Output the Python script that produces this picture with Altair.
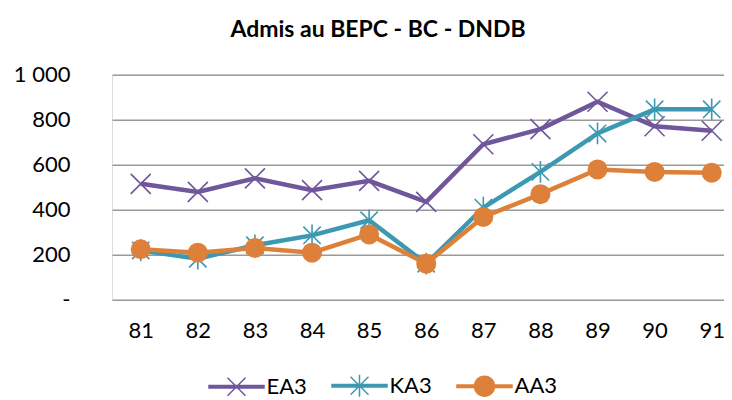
import altair as alt
import pandas as pd

years = [81, 82, 83, 84, 85, 86, 87, 88, 89, 90, 91]
series_names = ["EA3", "KA3", "AA3"]
ea3 = [515, 479, 539, 487, 528, 435, 691, 758, 880, 771, 751]
ka3 = [219, 182, 242, 286, 353, 160, 409, 568, 739, 846, 846]
aa3 = [224, 209, 230, 209, 290, 160, 368, 469, 579, 568, 564]
colors = ["#70579b", "#3d99b1", "#dd813a"]
y_ticks = [0, 200, 400, 600, 800, 1000]

FONT = "Lato"

rows = []
for name, vals in zip(series_names, [ea3, ka3, aa3]):
    for yr, v in zip(years, vals):
        rows.append({"annee": yr, "serie": name, "valeur": v})
df = pd.DataFrame(rows)

X_PATH = "M-1,-1L1,1M-1,1L1,-1"
STAR_PATH = "M-1,-1L1,1M-1,1L1,-1M0,-1.25L0,1.25"

LEG_EA = "M-2.75,-0.12L2.75,-0.12L2.75,0.12L-2.75,0.12ZM-0.9,-0.9L0.9,0.9M-0.9,0.9L0.9,-0.9"
LEG_KA = "M-2.75,-0.12L2.75,-0.12L2.75,0.12L-2.75,0.12ZM-0.9,-0.9L0.9,0.9M-0.9,0.9L0.9,-0.9M0,-1.1L0,1.1"
LEG_AA = "M-2.75,-0.12L2.75,-0.12L2.75,0.12L-2.75,0.12ZM1,0A1,1 0 1,1 -1,0A1,1 0 1,1 1,0Z"

legend = alt.Legend(
    orient="none", legendX=113.5, legendY=300, direction="horizontal",
    title=None, labelFontSize=22, labelFont=FONT, labelColor="#000000",
    symbolSize=400, labelOffset=19, columnPadding=21, padding=0,
    symbolStrokeWidth=1.5, symbolOpacity=1,
)

x_enc = alt.X(
    "annee:Q",
    scale=alt.Scale(domain=[80.497, 91.215], nice=False, zero=False),
    axis=alt.Axis(values=years, format="d", title=None, grid=False, domain=False,
                  ticks=False, tickSize=0, labelPadding=21, labelFontSize=22,
                  labelFont=FONT, labelColor="#000000"),
)
y_enc = alt.Y(
    "valeur:Q",
    scale=alt.Scale(domain=[0, 1000], nice=False),
    axis=alt.Axis(values=y_ticks, title=None, grid=True, gridColor="#9a9a9a",
                  gridWidth=1.5, domain=False, ticks=False, tickSize=0,
                  labelPadding=42, labelFontSize=22, labelFont=FONT,
                  labelColor="#000000",
                  labelExpr="datum.value == 0 ? '-\u00a0\u00a0\u00a0' : replace(format(datum.value, ',d'), ',', ' ')"),
)
color_enc = alt.Color(
    "serie:N",
    scale=alt.Scale(domain=series_names, range=colors),
    legend=None,
)

base = alt.Chart(df)
layers = []

# legend-carrying layer: invisible marks, its fill/stroke/shape scales give the legend
legend_layer = base.mark_point(
    filled=True, size=400, strokeWidth=1.5, opacity=0
).encode(
    x=x_enc, y=y_enc,
    fill=alt.Fill("serie:N", scale=alt.Scale(domain=series_names, range=colors), legend=legend),
    stroke=alt.Stroke("serie:N", scale=alt.Scale(domain=series_names, range=colors), legend=legend),
    shape=alt.Shape("serie:N", scale=alt.Scale(domain=series_names, range=[LEG_EA, LEG_KA, LEG_AA]), legend=legend),
)
layers.append(legend_layer)

for name in series_names:
    sub = base.transform_filter(alt.datum.serie == name)
    layers.append(sub.mark_line(strokeWidth=4.5).encode(x=x_enc, y=y_enc, color=color_enc))
    if name == "EA3":
        layers.append(sub.mark_point(shape=X_PATH, filled=False, size=400, strokeWidth=1.6, opacity=1)
                      .encode(x=x_enc, y=y_enc, color=color_enc))
    elif name == "KA3":
        layers.append(sub.mark_point(shape=STAR_PATH, filled=False, size=300, strokeWidth=1.6, opacity=1)
                      .encode(x=x_enc, y=y_enc, color=color_enc))
    else:
        layers.append(sub.mark_point(shape="circle", filled=True, size=400, opacity=1)
                      .encode(x=x_enc, y=y_enc, color=color_enc))

chart = alt.layer(*layers).properties(
    width=612,
    height=225,
    title=alt.TitleParams(
        "Admis au BEPC - BC - DNDB", fontSize=23, font=FONT, fontWeight="bold",
        color="#000000", anchor="middle", dx=-40, offset=22,
    ),
    autosize=alt.AutoSizeParams(type="none"),
    padding={"left": 104, "top": 66.7, "right": 0, "bottom": 106},
).configure_view(stroke=None).configure(background="white")

chart.save("out.html", embed_options={"renderer": "svg", "actions": False})
